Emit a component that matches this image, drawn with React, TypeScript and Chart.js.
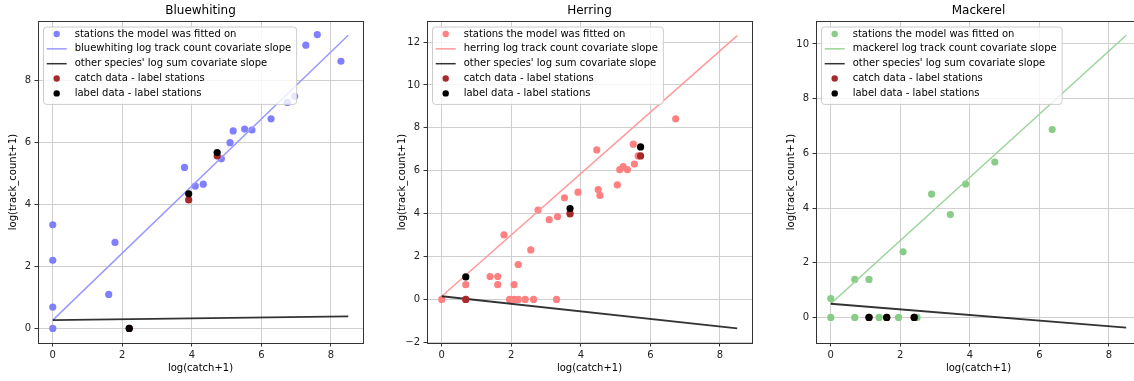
import React, { useEffect, useRef } from "react";
import { Chart, registerables } from "chart.js";

Chart.register(...registerables);

const FONT = '"DejaVu Sans", "Liberation Sans", sans-serif';

// shared
const xTicks = [0, 2, 4, 6, 8];
const lineX = [0, 8.5];

// Bluewhiting
const blueFitX = [0, 0, 0, 0, 1.61, 1.79, 3.79, 4.1, 4.33, 4.85, 5.1, 5.19, 5.52, 5.73, 6.28, 6.75, 6.96, 7.28, 7.61, 8.29];
const blueFitY = [0, 0.69, 2.2, 3.35, 1.1, 2.78, 5.2, 4.6, 4.66, 5.48, 6.0, 6.38, 6.44, 6.41, 6.77, 7.3, 7.5, 9.15, 9.49, 8.63];
const blueCatchX = [2.2, 3.91, 4.73];
const blueCatchY = [0, 4.15, 5.57];
const blueLabelX = [2.2, 3.91, 4.73];
const blueLabelY = [0, 4.35, 5.68];
const blueSpeciesLineY = [0.27, 9.47];
const blueOtherLineY = [0.27, 0.39];
const blueYTicks = [0, 2, 4, 6, 8];

// Herring
const herrFitX = [0, 0.69, 0.69, 1.39, 1.61, 1.61, 2.08, 1.79, 2.56, 2.2, 1.95, 2.08, 2.2, 2.4, 2.64, 3.3, 2.77, 3.09, 3.33, 3.53, 3.69, 3.92, 4.5, 4.55, 4.46, 5.05, 5.12, 5.22, 5.34, 5.54, 5.51, 5.65, 6.73];
const herrFitY = [0, 0.69, 0, 1.07, 1.07, 0.69, 0.69, 3.01, 2.31, 1.63, 0, 0, 0, 0, 0, 0, 4.17, 3.72, 3.86, 4.74, 4.0, 5.0, 5.12, 4.85, 6.97, 5.34, 6.05, 6.19, 6.05, 6.31, 7.24, 6.69, 8.42];
const herrCatchX = [0.69, 3.69, 5.72];
const herrCatchY = [0, 4.0, 6.69];
const herrLabelX = [0.69, 3.69, 5.72];
const herrLabelY = [1.05, 4.24, 7.11];
const herrSpeciesLineY = [0.15, 12.3];
const herrOtherLineY = [0.15, -1.35];
const herrYTicks = [-2, 0, 2, 4, 6, 8, 10, 12];

// Mackerel
const mackFitX = [0, 0, 0.69, 0.69, 1.1, 1.39, 1.95, 2.08, 2.48, 2.9, 3.44, 3.88, 4.72, 6.37];
const mackFitY = [0, 0.69, 0, 1.39, 1.39, 0, 0, 2.4, 0, 4.51, 3.76, 4.88, 5.68, 6.87];
const mackCatchX = [1.1, 1.61, 2.4];
const mackCatchY = [0, 0, 0];
const mackLabelX = [1.1, 1.61, 2.4];
const mackLabelY = [0, 0, 0];
const mackSpeciesLineY = [0.5, 10.32];
const mackOtherLineY = [0.5, -0.37];
const mackYTicks = [0, 2, 4, 6, 8, 10];

const pts = (xs: number[], ys: number[]) => xs.map((x, i) => ({ x, y: ys[i] }));

type PanelCfg = {
  title: string;
  name: string;
  fitX: number[];
  fitY: number[];
  catchX: number[];
  catchY: number[];
  labelX: number[];
  labelY: number[];
  speciesLineY: number[];
  otherLineY: number[];
  yTicks: number[];
  yMin: number;
  yMax: number;
  fitColor: string;
  lineColor: string;
  left: number;
};

const panels: PanelCfg[] = [
  {
    title: "Bluewhiting", name: "bluewhiting",
    fitX: blueFitX, fitY: blueFitY, catchX: blueCatchX, catchY: blueCatchY,
    labelX: blueLabelX, labelY: blueLabelY,
    speciesLineY: blueSpeciesLineY, otherLineY: blueOtherLineY,
    yTicks: blueYTicks, yMin: -0.47, yMax: 9.93,
    fitColor: "#8080ff", lineColor: "#9999ff", left: 0,
  },
  {
    title: "Herring", name: "herring",
    fitX: herrFitX, fitY: herrFitY, catchX: herrCatchX, catchY: herrCatchY,
    labelX: herrLabelX, labelY: herrLabelY,
    speciesLineY: herrSpeciesLineY, otherLineY: herrOtherLineY,
    yTicks: herrYTicks, yMin: -2.03, yMax: 12.98,
    fitColor: "#ff8080", lineColor: "#ff9999", left: 389,
  },
  {
    title: "Mackerel", name: "mackerel",
    fitX: mackFitX, fitY: mackFitY, catchX: mackCatchX, catchY: mackCatchY,
    labelX: mackLabelX, labelY: mackLabelY,
    speciesLineY: mackSpeciesLineY, otherLineY: mackOtherLineY,
    yTicks: mackYTicks, yMin: -0.935, yMax: 10.84,
    fitColor: "#88cc88", lineColor: "#99d499", left: 778,
  },
];

const CATCH_COLOR = "#a52a2a";
const LABEL_COLOR = "#000000";
const OTHER_LINE_COLOR = "rgba(0,0,0,0.8)";

function Panel({ cfg }: { cfg: PanelCfg }) {
  const ref = useRef<HTMLCanvasElement | null>(null);
  useEffect(() => {
    if (!ref.current) return;
    const legendItems = [
      { kind: "point", color: cfg.fitColor, label: "stations the model was fitted on" },
      { kind: "line", color: cfg.lineColor, label: `${cfg.name} log track count covariate slope` },
      { kind: "line", color: OTHER_LINE_COLOR, label: "other species' log sum covariate slope" },
      { kind: "point", color: CATCH_COLOR, label: "catch data - label stations" },
      { kind: "point", color: LABEL_COLOR, label: "label data - label stations" },
    ];
    const decor = {
      id: "decor",
      afterDraw(chart: any) {
        const { ctx, chartArea } = chart;
        ctx.save();
        // frame
        ctx.strokeStyle = "#333";
        ctx.lineWidth = 1;
        ctx.strokeRect(
          Math.round(chartArea.left) + 0.5,
          Math.round(chartArea.top) + 0.5,
          Math.round(chartArea.right - chartArea.left),
          Math.round(chartArea.bottom - chartArea.top)
        );
        // title
        ctx.fillStyle = "#000";
        ctx.font = `12px ${FONT}`;
        ctx.textAlign = "center";
        ctx.textBaseline = "middle";
        ctx.fillText(cfg.title, (chartArea.left + chartArea.right) / 2, 10.5);
        // legend
        ctx.font = `10px ${FONT}`;
        const rowH = 14.85;
        const bx = chartArea.left + 5;
        const by = chartArea.top + 5.5;
        const textW = Math.max(...legendItems.map((it) => ctx.measureText(it.label).width));
        const w = 31.7 + textW + 5;
        const h = 7 + 4 * rowH + 11;
        ctx.beginPath();
        if ((ctx as any).roundRect) (ctx as any).roundRect(bx + 0.5, by + 0.5, w, h, 3);
        else ctx.rect(bx + 0.5, by + 0.5, w, h);
        ctx.fillStyle = "rgba(255,255,255,0.8)";
        ctx.fill();
        ctx.strokeStyle = "#cccccc";
        ctx.stroke();
        ctx.textAlign = "left";
        ctx.textBaseline = "middle";
        legendItems.forEach((it, i) => {
          const cy = by + 7.5 + i * rowH;
          if (it.kind === "point") {
            ctx.beginPath();
            ctx.arc(bx + 13.7, cy, 3.2, 0, Math.PI * 2);
            ctx.fillStyle = it.color;
            ctx.fill();
          } else {
            ctx.beginPath();
            ctx.moveTo(bx + 3.7, cy);
            ctx.lineTo(bx + 23.7, cy);
            ctx.strokeStyle = it.color;
            ctx.lineWidth = 1.5;
            ctx.stroke();
          }
          ctx.fillStyle = "#000";
          ctx.fillText(it.label, bx + 31.7, cy);
        });
        ctx.restore();
      },
    };

    const chart = new Chart(ref.current, {
      type: "scatter",
      data: {
        datasets: [
          {
            data: pts(cfg.labelX, cfg.labelY),
            backgroundColor: LABEL_COLOR,
            borderWidth: 0,
            pointRadius: 3.6,
            order: 1,
          },
          {
            data: pts(cfg.catchX, cfg.catchY),
            backgroundColor: CATCH_COLOR,
            borderWidth: 0,
            pointRadius: 3.6,
            order: 2,
          },
          {
            data: pts(lineX, cfg.otherLineY),
            showLine: true,
            borderColor: OTHER_LINE_COLOR,
            borderWidth: 1.8,
            pointRadius: 0,
            order: 3,
          },
          {
            data: pts(lineX, cfg.speciesLineY),
            showLine: true,
            borderColor: cfg.lineColor,
            borderWidth: 1.5,
            pointRadius: 0,
            order: 4,
          },
          {
            data: pts(cfg.fitX, cfg.fitY),
            backgroundColor: cfg.fitColor,
            borderWidth: 0,
            pointRadius: 3.6,
            order: 5,
          },
        ],
      } as any,
      options: {
        animation: false,
        responsive: false,
        devicePixelRatio: 1,
        layout: { padding: { top: 21, right: 17, bottom: 0, left: 0 } },
        plugins: { legend: { display: false }, tooltip: { enabled: false }, title: { display: false } },
        scales: {
          x: {
            type: "linear",
            min: -0.425,
            max: 8.925,
            afterFit: (s: any) => { s.height = 38; },
            afterBuildTicks: (s: any) => { s.ticks = xTicks.map((v) => ({ value: v })); },
            ticks: {
              font: { family: FONT, size: 10 },
              color: "#222",
              padding: 3,
              maxRotation: 0,
              callback: (v: any) => String(v).replace("-", "\u2212"),
            },
            grid: { color: "#cfcfcf", lineWidth: 1, drawTicks: true, tickLength: 3.5, tickColor: "#333" },
            border: { display: false },
            title: {
              display: true,
              text: "log(catch+1)",
              font: { family: FONT, size: 10 },
              color: "#000",
              padding: { top: 0, bottom: 7 },
            },
          },
          y: {
            type: "linear",
            min: cfg.yMin,
            max: cfg.yMax,
            afterFit: (s: any) => { s.width = 38; },
            afterBuildTicks: (s: any) => { s.ticks = cfg.yTicks.map((v) => ({ value: v })); },
            ticks: {
              font: { family: FONT, size: 10 },
              color: "#222",
              padding: 3.5,
              callback: (v: any) => String(v).replace("-", "\u2212"),
            },
            grid: { color: "#cfcfcf", lineWidth: 1, drawTicks: true, tickLength: 3.5, tickColor: "#333" },
            border: { display: false },
            title: {
              display: true,
              text: "log(track_count+1)",
              font: { family: FONT, size: 10 },
              color: "#000",
              padding: { top: 7, bottom: 0 },
            },
          },
        },
      } as any,
      plugins: [decor],
    });
    return () => chart.destroy();
  }, [cfg]);

  return (
    <canvas
      ref={ref}
      width={380}
      height={381}
      style={{ position: "absolute", left: cfg.left, top: 0, width: 380, height: 381, display: "block" }}
    />
  );
}

export default function App() {
  return (
    <div
      style={{
        position: "fixed",
        left: 0,
        top: 0,
        width: 1134,
        height: 381,
        overflow: "hidden",
        background: "#fff",
      }}
    >
      {panels.map((p) => (
        <Panel key={p.name} cfg={p} />
      ))}
    </div>
  );
}
